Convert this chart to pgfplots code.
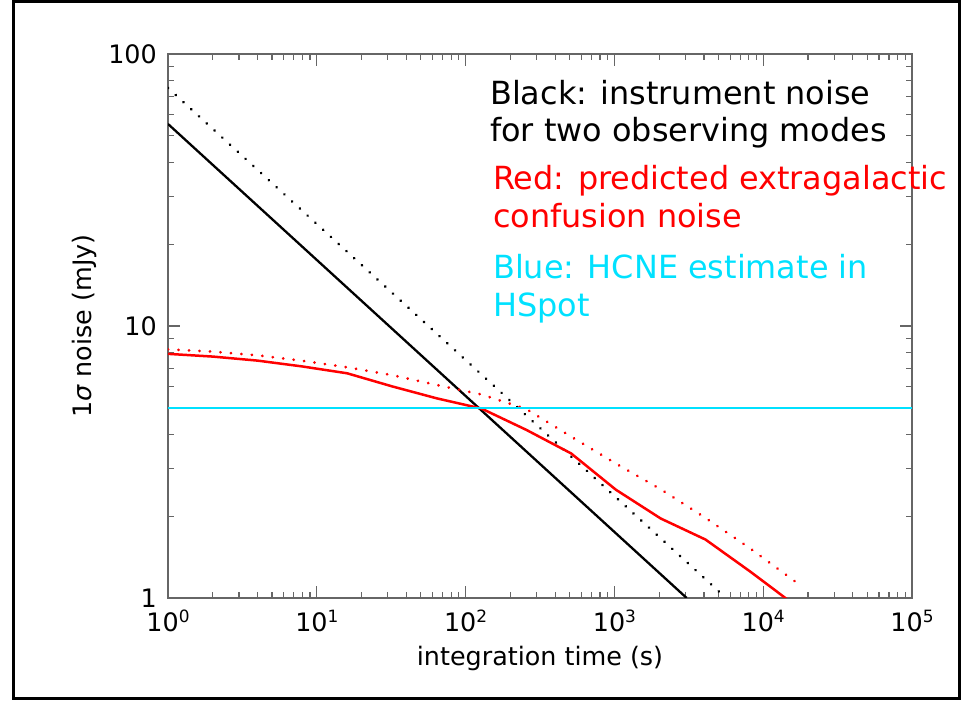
\documentclass[border=0pt]{standalone}
\usepackage{pgfplots}
\pgfplotsset{compat=1.18}
\usepackage{fontspec}
\setmainfont{DejaVu Sans}
\definecolor{idlcyan}{RGB}{0,225,255}
\newcommand{\tl}[1]{10\raisebox{9bp}{\fontsize{17}{17}\selectfont #1}}
\begin{document}
\begin{tikzpicture}[x=1bp,y=1bp]
\useasboundingbox (0,0) rectangle (961,703);
\draw[line width=3bp] (13,4) rectangle (959,701);
\begin{axis}[
  at={(168bp,105bp)}, anchor=south west,
  scale only axis, width=744bp, height=544bp,
  xmode=log, ymode=log,
  xmin=1, xmax=100000, ymin=1, ymax=100,
  xtick={1,10,100,1000,10000,100000},
  xticklabels={\tl{0},\tl{1},\tl{2},\tl{3},\tl{4},\tl{5}},
  ytick={1,10,100}, yticklabels={1,10,100},
  tick align=inside,
  major tick length=12bp, minor tick length=6bp,
  axis line style={black!60, line width=1.3bp},
  every tick/.style={black!60, line width=1.2bp},
  tick label style={font=\fontsize{25.5}{30}\selectfont},
  xticklabel style={anchor=base, yshift=-34bp},
  yticklabel style={anchor=east, inner sep=0pt, xshift=-11bp},
  xlabel={integration time (s)},
  ylabel={1{\itshape σ} noise (mJy)},
  label style={font=\fontsize{25.5}{30}\selectfont},
  xlabel style={at={(axis description cs:0.5,-0.1232)}, anchor=base},
  ylabel style={at={(axis description cs:-0.1116,0.5)}, anchor=center},
]
% black: instrument noise, two observing modes
\addplot[black, line width=2.3bp] coordinates {(1,55.3) (3060,1)};
\addplot[black, line width=3bp, line cap=round, dash pattern=on 0.01bp off 10.5bp] coordinates {(1,75) (5625,1)};
% red: predicted extragalactic confusion noise
\addplot[red, line width=2.5bp] coordinates {
(1,7.9) (2,7.72) (4,7.46) (8,7.1) (16,6.7) (32,6.0) (64,5.42) (128,4.97)
(256,4.15) (512,3.40) (1024,2.50) (2048,1.96) (4096,1.64) (8192,1.25) (16384,0.94)};
\addplot[red, line width=3bp, line cap=round, dash pattern=on 0.01bp off 10.5bp] coordinates {
(1,8.2) (2,8.05) (4,7.8) (8,7.45) (16,7.05) (32,6.6) (64,6.07) (128,5.6)
(256,4.95) (512,3.92) (1024,3.12) (2048,2.51) (4096,1.97) (8192,1.52) (16384,1.15)};
% blue: HCNE estimate in HSpot
\addplot[idlcyan, line width=2.2bp] coordinates {(1,5) (100000,5)};
\end{axis}
\begin{scope}[every node/.style={anchor=base west, inner sep=0pt, font=\fontsize{32}{37}\selectfont}]
\node[black] at (490,598) {Black: instrument noise};
\node[black] at (490,561.3) {for two observing modes};
\node[red] at (493,513) {Red: predicted extragalactic};
\node[red] at (493,475) {confusion noise};
\node[idlcyan] at (493,424) {Blue: HCNE estimate in};
\node[idlcyan] at (493,386.3) {HSpot};
\end{scope}
\end{tikzpicture}
\end{document}
